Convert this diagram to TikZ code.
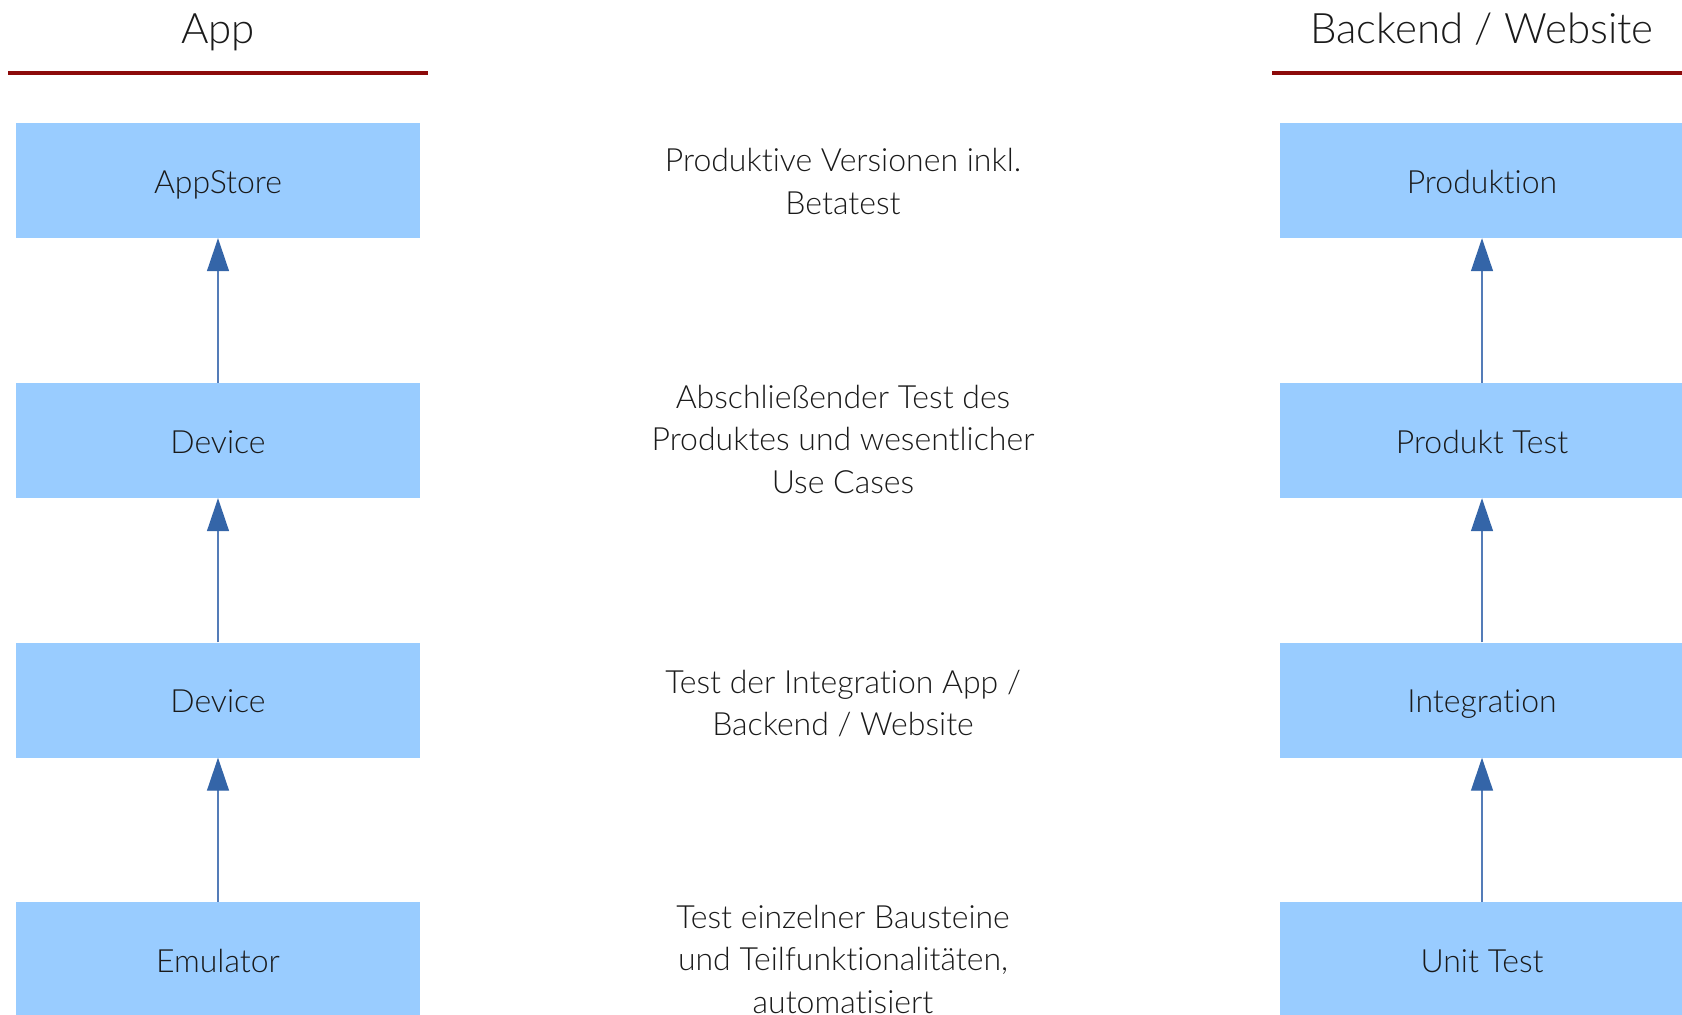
\documentclass[tikz,border=0pt]{standalone}
\usepackage{fontspec}
\IfFontExistsTF{Lato Light}
  {\setmainfont{Lato Light}[Ligatures=NoCommon]}
  {\setmainfont{Lato}[Ligatures=NoCommon]}
\usetikzlibrary{arrows.meta}
\definecolor{boxblue}{RGB}{153,204,255}
\definecolor{headred}{RGB}{140,10,10}
\definecolor{arrowline}{RGB}{84,124,184}
\definecolor{arrowhead}{RGB}{52,101,168}
\definecolor{inktext}{RGB}{26,26,26}
% centred lines, first baseline on the node's base anchor
\newcommand{\desclines}[1]{\begin{tabular}[t]{@{}c@{}}#1\end{tabular}}
\tikzset{
  stage/.style={fill=boxblue, minimum width=404pt, minimum height=115pt,
    inner sep=0pt, text height=25pt, text depth=0pt, text=inktext,
    font=\fontsize{32}{42.5}\selectfont},
  desc/.style={anchor=base, inner sep=0pt, text=inktext,
    font=\fontsize{32}{42.5}\selectfont},
  header/.style={anchor=base, text=inktext, font=\fontsize{42}{50}\selectfont},
  rule/.style={draw=headred, line width=3.5pt},
  promote/.style={draw=arrowline, line width=1.3pt,
    -{Triangle[width=22pt,length=33pt,color=arrowhead,fill=arrowhead]}}
}
\begin{document}
\begin{tikzpicture}[x=1pt,y=-1pt]
  \useasboundingbox (0,0) rectangle (1682,1015);

  % column headers
  \node[header] (hApp) at (218,43) {App};
  \node[header] (hBack) at (1482,43) {Backend / Website};
  \draw[rule] (8,73) -- (428,73);
  \draw[rule] (1272,73) -- (1690,73);

  % app pipeline
  \node[stage] (store) at (218,180.5) {AppStore};
  \node[stage] (dev2)  at (218,440.5) {Device};
  \node[stage] (dev1)  at (218,700)   {Device};
  \node[stage] (emu)   at (218,959.5) {Emulator};

  % backend pipeline
  \node[stage] (prod)  at (1482,180.5) {Produktion};
  \node[stage] (ptest) at (1482,440.5) {Produkt Test};
  \node[stage] (integ) at (1482,700)   {Integration};
  \node[stage] (unit)  at (1482,959.5) {Unit Test};

  % stage descriptions
  \node[desc] (d1) at (843,171.5) {\desclines{Produktive Versionen inkl.\\Betatest}};
  \node[desc] (d2) at (843,408)   {\desclines{Abschließender Test des\\Produktes und wesentlicher\\Use Cases}};
  \node[desc] (d3) at (843,693)   {\desclines{Test der Integration App /\\Backend / Website}};
  \node[desc] (d4) at (843,928)   {\desclines{Test einzelner Bausteine\\und Teilfunktionalitäten,\\automatisiert}};

  % promotions
  \draw[promote] (emu.north) -- (dev1.south);
  \draw[promote] (dev1.north) -- (dev2.south);
  \draw[promote] (dev2.north) -- (store.south);
  \draw[promote] (unit.north) -- (integ.south);
  \draw[promote] (integ.north) -- (ptest.south);
  \draw[promote] (ptest.north) -- (prod.south);
\end{tikzpicture}
\end{document}
